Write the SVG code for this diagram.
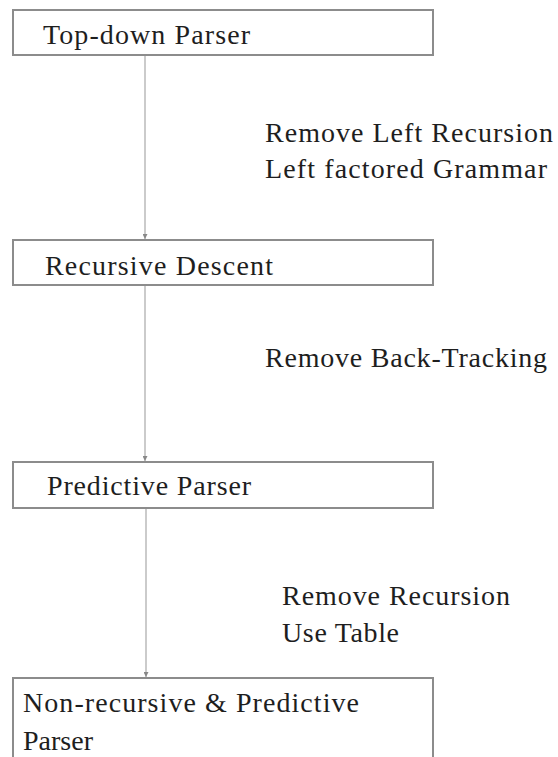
<svg xmlns="http://www.w3.org/2000/svg" width="558" height="757" viewBox="0 0 558 757">
<defs>
<style>
.box{fill:#fff;stroke:#8c8c8c;stroke-width:2}
.t{font-family:'Liberation Serif','Times New Roman',Times,serif;font-size:28px;fill:#1e1e1e}
.c{stroke:#a8a8a8;stroke-width:1.2;fill:none}
</style>
<marker id="ah" viewBox="0 0 10 10" refX="10" refY="5" markerWidth="5" markerHeight="5" orient="auto" markerUnits="userSpaceOnUse">
<path d="M0,0 L10,5 L0,10 z" fill="#888"/>
</marker>
</defs>
<rect width="558" height="757" fill="#fff"/>
<g id="connectors">
<line class="c" x1="145" y1="56" x2="145" y2="239" marker-end="url(#ah)"/>
<line class="c" x1="145" y1="286" x2="145" y2="461" marker-end="url(#ah)"/>
<line class="c" x1="146" y1="509" x2="146" y2="677" marker-end="url(#ah)"/>
<text class="t" x="265" y="142" textLength="288" lengthAdjust="spacing">Remove Left Recursion</text>
<text class="t" x="265" y="178" textLength="282" lengthAdjust="spacing">Left factored Grammar</text>
<text class="t" x="265" y="367" textLength="282" lengthAdjust="spacing">Remove Back-Tracking</text>
<text class="t" x="282" y="605" textLength="228" lengthAdjust="spacing">Remove Recursion</text>
<text class="t" x="282" y="642" textLength="117" lengthAdjust="spacing">Use Table</text>
</g>
<g id="n1">
<rect class="box" x="13" y="10" width="420" height="45"/>
<text class="t" x="43" y="44" textLength="207" lengthAdjust="spacing">Top-down Parser</text>
</g>
<g id="n2">
<rect class="box" x="13" y="240" width="420" height="45"/>
<text class="t" x="45" y="275" textLength="228" lengthAdjust="spacing">Recursive Descent</text>
</g>
<g id="n3">
<rect class="box" x="13" y="462" width="420" height="46"/>
<text class="t" x="47" y="495" textLength="204" lengthAdjust="spacing">Predictive Parser</text>
</g>
<g id="n4">
<rect class="box" x="13" y="678" width="420" height="100"/>
<text class="t" x="23" y="712" textLength="336" lengthAdjust="spacing">Non-recursive &amp; Predictive</text>
<text class="t" x="23" y="750">Parser</text>
</g>
</svg>
